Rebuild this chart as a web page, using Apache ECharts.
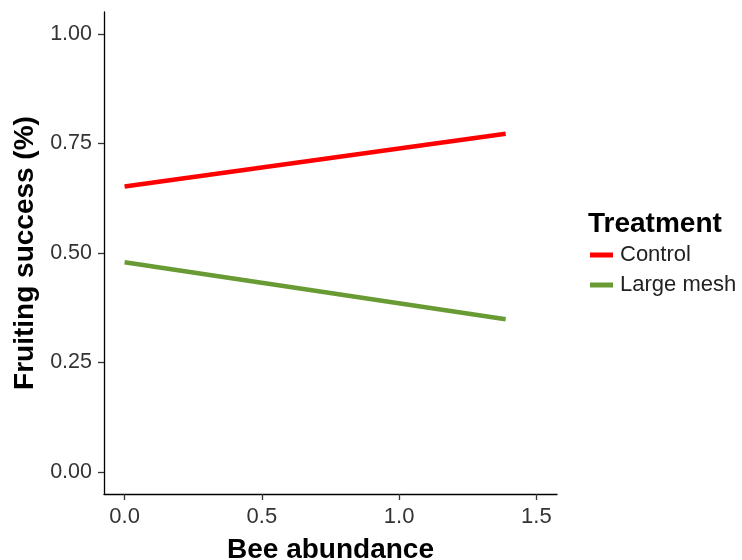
<!DOCTYPE html>
<html>
<head>
<meta charset="utf-8">
<script src="https://cdn.jsdelivr.net/npm/echarts@6/dist/echarts.min.js"></script>
<style>
  html, body { margin: 0; padding: 0; background: #fff; }
  #chart { width: 742px; height: 560px; }
</style>
</head>
<body>
<div id="chart"></div>
<script>
// data
var treatments = ['Control', 'Large mesh'];
var beeAbundance = [0, 1.388];
var controlFit = [0.652, 0.772];
var largeMeshFit = [0.479, 0.349];
var xTicks = [0, 0.5, 1, 1.5];
var yTicks = [0, 0.25, 0.5, 0.75, 1];

var colors = ['#ff0000', '#699b34'];

function pairs(xs, ys) {
  return xs.map(function (x, i) { return [x, ys[i]]; });
}

var myChart = echarts.init(document.getElementById('chart'));
var font = 'Liberation Sans, Arial, sans-serif';

var option = {
  animation: false,
  textStyle: { fontFamily: font },
  title: {
    text: 'Treatment',
    left: 583,
    top: 205,
    textStyle: { fontSize: 28, fontWeight: 'bold', color: '#000', fontFamily: font }
  },
  legend: {
    data: treatments,
    orient: 'vertical',
    left: 585,
    top: 239,
    itemWidth: 23,
    itemHeight: 5,
    itemGap: 8,
    icon: 'rect',
    textStyle: { fontSize: 22, color: '#222', fontFamily: font, padding: [0, 0, 0, 2] }
  },
  grid: { left: 104, right: 185, top: 12, bottom: 66, containLabel: false, outerBoundsMode: 'none' },
  xAxis: {
    type: 'value',
    min: -0.075,
    max: 1.575,
    name: 'Bee abundance',
    nameLocation: 'middle',
    nameGap: 42,
    nameTextStyle: { fontSize: 28, fontWeight: 'bold', color: '#000' },
    axisLine: { show: true, onZero: false, lineStyle: { color: '#000', width: 1.3 } },
    axisTick: { show: true, length: 6, customValues: xTicks, lineStyle: { color: '#333', width: 1.3 } },
    axisLabel: {
      customValues: xTicks,
      fontSize: 22,
      color: '#333',
      margin: 12,
      formatter: function (v) { return v.toFixed(1); }
    },
    splitLine: { show: false }
  },
  yAxis: {
    type: 'value',
    min: -0.05,
    max: 1.05,
    name: 'Fruiting success (%)',
    nameLocation: 'middle',
    nameGap: 64,
    nameTextStyle: { fontSize: 28, fontWeight: 'bold', color: '#000' },
    axisLine: { show: true, onZero: false, lineStyle: { color: '#000', width: 1.3 } },
    axisTick: { show: true, length: 6, customValues: yTicks, lineStyle: { color: '#333', width: 1.3 } },
    axisLabel: {
      customValues: yTicks,
      fontSize: 21.5,
      color: '#333',
      margin: 12,
      formatter: function (v) { return v.toFixed(2); }
    },
    splitLine: { show: false }
  },
  series: [
    {
      name: treatments[0],
      type: 'line',
      data: pairs(beeAbundance, controlFit),
      showSymbol: false,
      color: colors[0],
      lineStyle: { width: 4.5, color: colors[0] }
    },
    {
      name: treatments[1],
      type: 'line',
      data: pairs(beeAbundance, largeMeshFit),
      showSymbol: false,
      color: colors[1],
      lineStyle: { width: 4.5, color: colors[1] }
    }
  ]
};

myChart.setOption(option);
</script>
</body>
</html>
